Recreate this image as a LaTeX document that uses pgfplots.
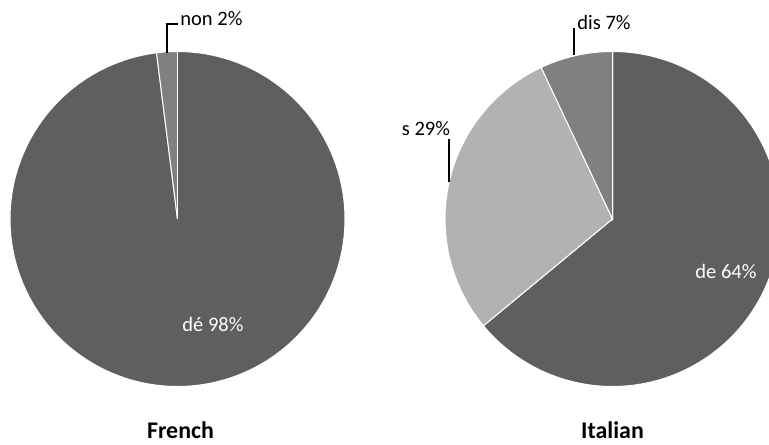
\documentclass[border=0pt]{standalone}
\usepackage{fontspec}
\setmainfont{Carlito}
\usepackage{pgfplots}
\usepackage{pgfplotstable}
\pgfplotsset{compat=1.18}
\usepgfplotslibrary{polar}

\definecolor{slicedark}{HTML}{5F5F5F}
\definecolor{slicemid}{HTML}{808080}
\definecolor{slicelight}{HTML}{B2B2B2}

% share of each word form, in percent, clockwise from 12 o'clock
\pgfplotstableread{
label value shade
de    98    slicedark
non   2     slicemid
}\frenchdata
\pgfplotstableread{
label value shade
de    64    slicedark
s     29    slicelight
dis   7     slicemid
}\italiandata

% draws the slices of one table as wedges of a polar axis
\newcommand\pieslices[1]{%
  \pgfplotstablegetrowsof{#1}%
  \pgfmathtruncatemacro\pieLast{\pgfplotsretval-1}%
  \def\pieStart{90}%
  \pgfplotsforeachungrouped \pieRow in {0,...,\pieLast}{%
    \pgfplotstablegetelem{\pieRow}{value}\of{#1}%
    \pgfmathsetmacro\pieEnd{\pieStart-3.6*\pgfplotsretval}%
    \pgfplotstablegetelem{\pieRow}{shade}\of{#1}%
    \edef\pieCmd{\noexpand\addplot[fill=\pgfplotsretval, draw=white,
      line width=0.5bp, domain=\pieEnd:\pieStart, samples=180]
      {1} -- (axis cs:0,0) -- cycle;}%
    \pieCmd
    \let\pieStart\pieEnd
  }%
}

\pgfplotsset{
  pie/.style={
    hide axis, clip=false, scale only axis,
    width=167.5bp, height=167.5bp,
    xmin=0, xmax=360, ymin=0, ymax=1,
    anchor=center,
  },
}

\begin{document}
\begin{tikzpicture}
\useasboundingbox (0,0) rectangle (384.5bp,222.5bp);
\clip (0,0) rectangle (384.5bp,222.5bp);

\begin{polaraxis}[pie, at={(88.75bp,113bp)}]
  \pieslices{\frenchdata}
\end{polaraxis}

\begin{polaraxis}[pie, at={(306.25bp,113bp)}]
  \pieslices{\italiandata}
\end{polaraxis}

% labels, leader lines and titles
\begin{scope}[x=0.5bp, y=-0.5bp, shift={(0,222.5bp)},
  lab/.style={font=\fontsize{10.3}{12}\selectfont, inner sep=0pt},
  lead/.style={black, line width=0.6bp}]
  \node[lab, anchor=west] at (180,19) {non 2\%};
  \draw[lead] (167,53) -- (167,24) -- (178,24);
  \node[lab, text=white] at (213,324) {dé 98\%};

  \node[lab] at (426,129) {s 29\%};
  \draw[lead] (449,139) -- (449,182);
  \node[lab] at (604,22) {dis 7\%};
  \draw[lead] (574,28) -- (574,55);
  \node[lab, text=white] at (726,271) {de 64\%};

  \node[font=\fontsize{12}{14}\selectfont\bfseries, inner sep=0pt] at (180.5,430) {French};
  \node[font=\fontsize{12}{14}\selectfont\bfseries, inner sep=0pt] at (612.5,430) {Italian};
\end{scope}
\end{tikzpicture}
\end{document}
